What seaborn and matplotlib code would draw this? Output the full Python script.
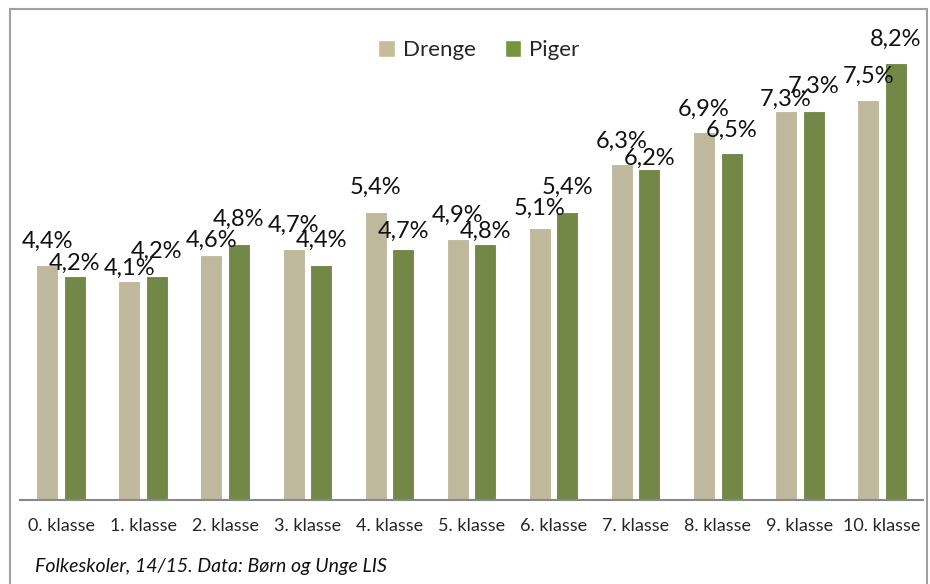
import pandas as pd
import matplotlib.pyplot as plt
import seaborn as sns
from matplotlib.lines import Line2D
from matplotlib.patches import Patch

# data
klasser = ["0. klasse", "1. klasse", "2. klasse", "3. klasse", "4. klasse", "5. klasse",
           "6. klasse", "7. klasse", "8. klasse", "9. klasse", "10. klasse"]
drenge = [4.4, 4.1, 4.6, 4.7, 5.4, 4.9, 5.1, 6.3, 6.9, 7.3, 7.5]
piger = [4.2, 4.2, 4.8, 4.4, 4.7, 4.8, 5.4, 6.2, 6.5, 7.3, 8.2]
groups = ["Drenge", "Piger"]
colors = ["#C4BD97", "#77933C"]

# label gap above each bar in pixels (some labels were nudged down in the original)
gap_drenge = [19, 8, 10, 19, 20, 19, 15, 18, 18, 7, 19]
gap_piger = [8, 20, 20, 20, 13, 8, 20, 6, 18, 20, 19]

df = pd.DataFrame({
    "klasse": klasser * 2,
    "pct": drenge + piger,
    "gruppe": [groups[0]] * len(klasser) + [groups[1]] * len(klasser),
})

sns.set_style("white")
plt.rcParams["font.family"] = ["Lato", "DejaVu Sans"]

fig = plt.figure(figsize=(9.3, 5.84), dpi=100)
ax = fig.add_axes([20 / 930, 0.144, 903 / 930, 0.822])

sns.barplot(data=df, x="klasse", y="pct", hue="gruppe", palette=colors,
            width=0.67, gap=0.2, edgecolor="white", linewidth=0.8,
            legend=False, ax=ax)

for cont, gaps in zip(ax.containers, [gap_drenge, gap_piger]):
    for bar, v, g in zip(cont, cont.datavalues, gaps):
        ax.annotate(f"{v:.1f}%".replace(".", ","),
                    (bar.get_x() + bar.get_width() / 2, bar.get_height()),
                    xytext=(0, (g - 6) * 0.72), textcoords="offset points",
                    ha="center", va="bottom", fontsize=17, color="#111111")

ax.set_ylim(0, 9)
ax.set_xlim(-0.5, len(klasser) - 0.5)
ax.set_xlabel("")
ax.set_ylabel("")
ax.set_yticks([])
ax.tick_params(axis="x", length=0, labelsize=13, pad=13)
for s in ["top", "right", "left"]:
    ax.spines[s].set_visible(False)
ax.spines["bottom"].set_color("#888888")
ax.spines["bottom"].set_linewidth(1.5)

handles = [Patch(facecolor=c, label=g) for c, g in zip(colors, groups)]
fig.legend(handles=handles, loc="center", bbox_to_anchor=(0.515, 0.914), ncol=2,
           frameon=False, fontsize=16, handlelength=0.75, handleheight=0.75,
           handletextpad=0.35, columnspacing=1.3)

fig.text(35 / 930, 0.021, "Folkeskoler, 14/15. Data: Børn og Unge LIS", fontsize=14,
         style="italic", color="#111111")

# chart border (bottom edge is cropped off in the reference)
x0, x1, y1 = 10 / 930, 927 / 930, 1 - 9 / 584
for xs, ys in [([x0, x0], [0.0, y1]), ([x0, x1], [y1, y1]), ([x1, x1], [0.0, y1])]:
    fig.add_artist(Line2D(xs, ys, color="#A0A0A0", linewidth=1.5, transform=fig.transFigure))

fig.savefig("out.png", dpi=100)
